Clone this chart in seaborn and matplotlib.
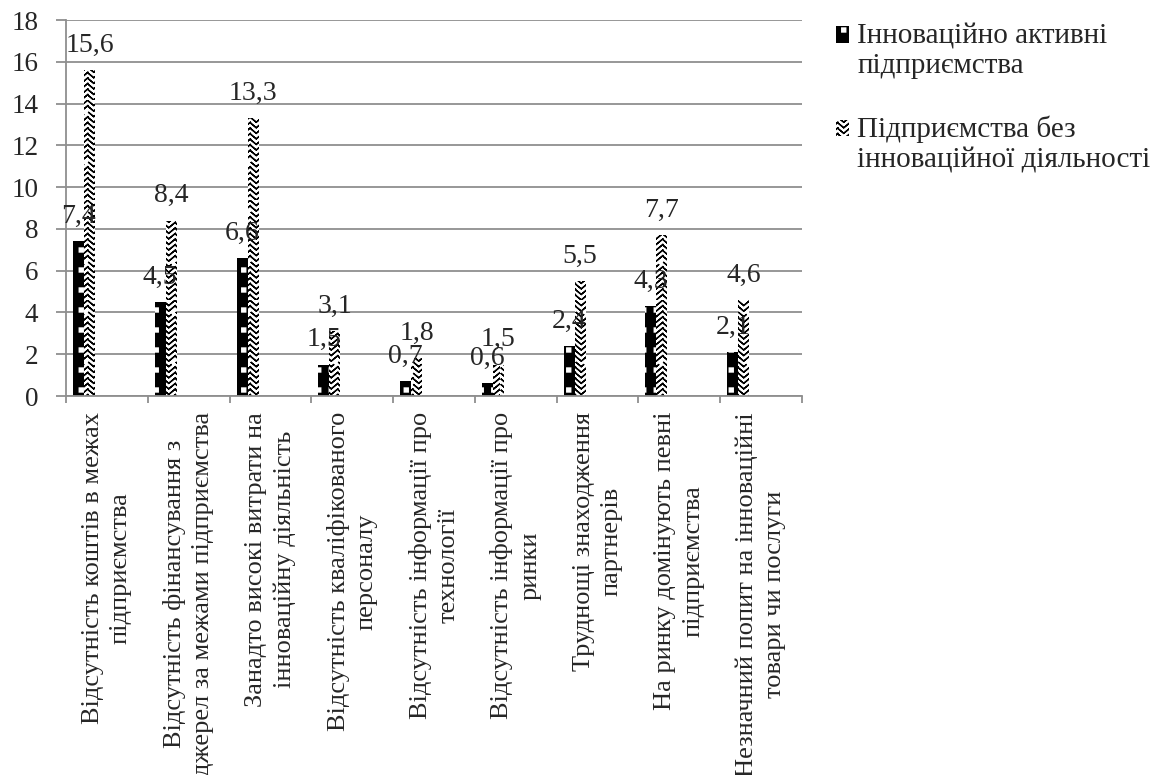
import warnings
import numpy as np
import pandas as pd
import matplotlib
matplotlib.use("Agg")
import matplotlib.pyplot as plt
import matplotlib.hatch as mhatch
from matplotlib.path import Path
from matplotlib.patches import Patch, Rectangle
from matplotlib.legend_handler import HandlerPatch
import seaborn as sns

warnings.filterwarnings("ignore")

# Data
categories = [
    "Відсутність коштів в межах\nпідприємства",
    "Відсутність фінансування з\nджерел за межами підприємства",
    "Занадто високі витрати на\nінноваційну діяльність",
    "Відсутність кваліфікованого\nперсоналу",
    "Відсутність інформації про\nтехнології",
    "Відсутність інформації про\nринки",
    "Труднощі знаходження\nпартнерів",
    "На ринку домінують певні\nпідприємства",
    "Незначний попит на інноваційні\nтовари чи послуги",
]
series_names = ["Інноваційно активні\nпідприємства",
                "Підприємства без\nінноваційної діяльності"]
active = [7.4, 4.5, 6.6, 1.5, 0.7, 0.6, 2.4, 4.3, 2.1]
inactive = [15.6, 8.4, 13.3, 3.1, 1.8, 1.5, 5.5, 7.7, 4.6]


# zigzag (chevron) hatch like the Excel pattern, registered as 'v'
# each V is traced forth and back so Agg's hatch fill stays empty
class ChevronHatch(mhatch.HatchPatternBase):
    def __init__(self, hatch, density):
        self.num_rows = int(hatch.count('v') * density * 3)
        self.num_cols = 8 if self.num_rows else 0
        self.num_vertices = self.num_rows * self.num_cols * 5

    def set_vertices_and_codes(self, vertices, codes):
        dy = 1.0 / self.num_rows
        dx = 1.0 / self.num_cols
        h = dy * 0.75
        i = 0
        for r in range(self.num_rows):
            y = r * dy
            for c in range(self.num_cols):
                x = c * dx
                a = (x + 0.1 * dx, y + h)
                b = (x + dx / 2, y)
                e = (x + 0.9 * dx, y + h)
                vertices[i:i + 5] = [a, b, e, b, a]
                codes[i] = Path.MOVETO
                codes[i + 1:i + 5] = Path.LINETO
                i += 5


# small filled squares, registered as 'q'
class SquareHatch(mhatch.HatchPatternBase):
    def __init__(self, hatch, density):
        self.num_rows = hatch.count('q') * 5
        self.num_cols = hatch.count('q') * 8
        self.num_vertices = self.num_rows * self.num_cols * 5

    def set_vertices_and_codes(self, vertices, codes):
        sy = 1.0 / self.num_rows
        sx = 1.0 / self.num_cols
        s = 0.04
        i = 0
        for r in range(self.num_rows):
            for c in range(self.num_cols):
                cx = (c + 0.5) * sx
                cy = (r + 0.5) * sy
                vertices[i:i + 5] = [(cx - s / 2, cy - s / 2), (cx + s / 2, cy - s / 2),
                                     (cx + s / 2, cy + s / 2), (cx - s / 2, cy + s / 2),
                                     (cx - s / 2, cy - s / 2)]
                codes[i] = Path.MOVETO
                codes[i + 1:i + 4] = Path.LINETO
                codes[i + 4] = Path.CLOSEPOLY
                i += 5


mhatch._hatch_types.append(ChevronHatch)
mhatch._hatch_types.append(SquareHatch)


# legend key sitting next to the first line of a two-line label
def top_key(legend, orig_handle, xdescent, ydescent, width, height, fontsize):
    return Rectangle((-xdescent, -ydescent + 0.55 * fontsize), width, height)


sns.set_style("white")
plt.rcParams['font.family'] = ['Liberation Serif', 'DejaVu Serif']
plt.rcParams['hatch.linewidth'] = 1.0

df = pd.DataFrame({
    'cat': categories * 2,
    'value': active + inactive,
    'series': [series_names[0]] * len(active) + [series_names[1]] * len(inactive),
})

fig = plt.figure(figsize=(11.73, 7.75), dpi=100)
ax = fig.add_axes([0.0563, 0.489, 0.6274, 0.485])

sns.barplot(data=df, x='cat', y='value', hue='series', palette=['black', 'white'],
            width=0.27, saturation=1, legend=False, ax=ax, err_kws={'linewidth': 0})

hatches = ['q', 'v']
edge = ['white', 'black']
for k, cont in enumerate(ax.containers):
    for p in cont.patches:
        p.set_x(p.get_x() - 0.28)
        p.set_hatch(hatches[k])
        p.set_edgecolor(edge[k])
        p.set_linewidth(0)
    labels = [f"{v:.1f}".replace('.', ',') for v in cont.datavalues]
    ax.bar_label(cont, labels=labels, padding=9, fontsize=20)

ax.set_ylim(0, 18)
ax.set_yticks(np.arange(0, 19, 2))
ax.set_xlim(-0.5, 8.5)
ax.set_xticks(np.arange(-0.5, 9, 1), minor=True)
ax.set_xlabel('')
ax.set_ylabel('')
ax.grid(axis='y', color='#8f8f8f', linewidth=1.3)
ax.set_axisbelow(True)
for s in ['top', 'right']:
    ax.spines[s].set_visible(False)
for s in ['left', 'bottom']:
    ax.spines[s].set_color('#8f8f8f')
    ax.spines[s].set_linewidth(1.3)

ax.tick_params(axis='y', which='major', left=True, length=7, width=1.3, color='#8f8f8f',
               pad=13, labelsize=19.5)
ax.tick_params(axis='x', which='major', bottom=False, pad=8, labelsize=19)
ax.tick_params(axis='x', which='minor', bottom=True, length=5, width=1.3, color='#8f8f8f')
for t in ax.get_xticklabels():
    t.set_rotation(90)
    t.set_multialignment('center')
    t.set_linespacing(1.35)

handles = [Patch(facecolor='black', edgecolor='white', hatch='q', linewidth=0),
           Patch(facecolor='white', edgecolor='black', hatch='v', linewidth=0)]
leg = fig.legend(handles, series_names, loc='upper left', bbox_to_anchor=(0.690, 1.004),
                 frameon=False, fontsize=21, handlelength=0.45, handleheight=0.5,
                 handletextpad=0.3, labelspacing=1.25,
                 handler_map={Patch: HandlerPatch(patch_func=top_key)})
for t in leg.get_texts():
    t.set_linespacing(1.2)

fig.savefig('out.png', dpi=100)
